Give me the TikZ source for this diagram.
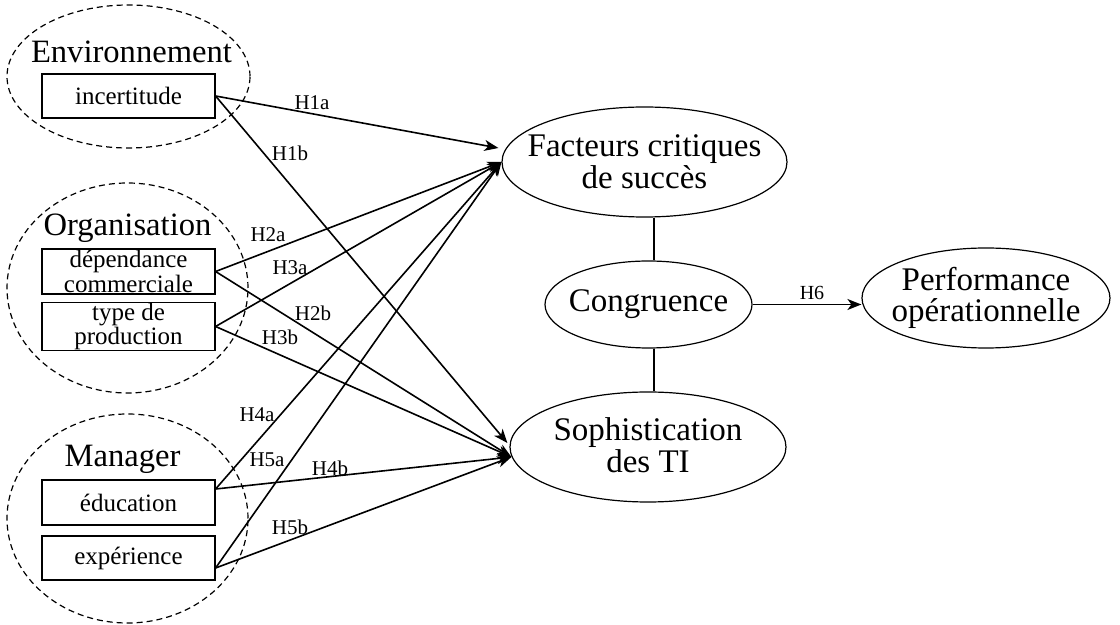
\documentclass[tikz,border=0pt]{standalone}
\usepackage{fontspec}
\setmainfont{Liberation Serif}
\usetikzlibrary{shapes.geometric,arrows.meta}
\begin{document}
\begin{tikzpicture}[x=0.5pt,y=-0.5pt,
  grp/.style={draw, dash pattern=on 3pt off 2pt, ellipse, line width=0.6pt, inner sep=0pt},
  grplbl/.style={font=\fontsize{16.3}{16}\selectfont, inner sep=0pt, anchor=base},
  boxnode/.style={draw, rectangle, line width=0.6pt, minimum width=86.5pt, minimum height=22pt, inner sep=0pt, align=center, font=\fontsize{12.5}{10.2}\selectfont},
  var/.style={draw, ellipse, line width=0.6pt, inner sep=0pt},
  vtext/.style={align=center, font=\fontsize{16.5}{14.2}\selectfont, inner sep=0pt},
  arr/.style={-{Stealth[length=7pt,width=5.5pt,inset=2pt]}, line width=0.8pt},
  plain/.style={line width=0.8pt},
  hyp/.style={font=\fontsize{10.5}{10.5}\selectfont, inner sep=0pt}
]
\useasboundingbox (0,0) rectangle (1120,625);

% group ellipses
\node[grp, minimum width=121.5pt, minimum height=71.5pt] (env) at (128.5,76.5) {};
\node[grp, minimum width=120.5pt, minimum height=105pt] (org) at (127.5,288) {};
\node[grp, minimum width=120.5pt, minimum height=104.5pt] (man) at (127.5,518.5) {};

\node[grplbl] (envl) at (131.5,63) {Environnement};
\node[grplbl] (orgl) at (127.5,236) {Organisation};
\node[grplbl] (manl) at (122.5,467) {Manager};

% boxes
\node[boxnode] (inc) at (128.5,96) {incertitude};
\node[boxnode, minimum height=22.5pt] (dep) at (128.5,271.5) {dépendance\\commerciale};
\node[boxnode, minimum height=22.5pt] (typ) at (128.5,326.5) {type de\\production};
\node[boxnode, minimum height=22.5pt] (edu) at (128.5,502.5) {éducation};
\node[boxnode] (exp) at (128.5,558) {expérience};

% right ellipses
\node[var, minimum width=142.5pt, minimum height=55pt] (fcs) at (644.5,162) {};
\node[vtext] (fcst) at (fcs) {Facteurs critiques\\de succès};
\node[var, minimum width=103.5pt, minimum height=43.5pt] (cong) at (648.5,304.5) {};
\node[vtext] (congt) at (cong) {Congruence};
\node[var, minimum width=138pt, minimum height=55pt] (sti) at (648,447) {};
\node[vtext] (stit) at ([yshift=1pt]sti) {Sophistication\\des TI};
\node[var, minimum width=124pt, minimum height=50pt] (perf) at (986,298) {};
\node[vtext, font=\fontsize{16.5}{15.5}\selectfont] (perft) at (perf) {Performance\\opérationnelle};

% connector ends
\coordinate (fa1) at ([shift={(-1.5pt,7pt)}]fcs.west);
\coordinate (sb) at ([shift={(1pt,-5pt)}]sti.west);
\coordinate (sb1) at ([shift={(-1pt,2pt)}]sti.west);
\coordinate (edu1) at ([yshift=6.75pt]edu.east);
\coordinate (exp1) at ([yshift=-5pt]exp.east);

% arrows
\draw[arr] (inc.east) -- (fa1);
\draw[arr] (inc.east) -- (sb1);
\draw[arr] (dep.east) -- (fcs.west);
\draw[arr] (dep.east) -- (sb);
\draw[arr] (typ.east) -- (fcs.west);
\draw[arr] (typ.east) -- (sb);
\draw[arr] (edu1) -- (fcs.west);
\draw[arr] (edu1) -- (sb);
\draw[arr] (exp1) -- (fcs.west);
\draw[arr] (exp1) -- (sb);

\draw[plain] ([xshift=4.75pt]fcs.south) -- ([xshift=2.75pt]cong.north);
\draw[plain] ([xshift=2.75pt]cong.south) -- ([xshift=3pt]sti.north);
\draw[arr] (cong.east) -- (cong.east -| perf.west);

% hypothesis labels
\node[hyp] (h1a) at (312,103) {H1a};
\node[hyp] (h1b) at (290,153) {H1b};
\node[hyp] (h2a) at (268,235) {H2a};
\node[hyp] (h3a) at (290,268) {H3a};
\node[hyp] (h2b) at (313,313) {H2b};
\node[hyp] (h3b) at (280,337) {H3b};
\node[hyp] (h4a) at (257,415) {H4a};
\node[hyp] (h5a) at (267,460) {H5a};
\node[hyp] (h4b) at (330,468) {H4b};
\node[hyp] (h5b) at (290,527) {H5b};
\node[hyp, font=\fontsize{10}{10}\selectfont] (h6) at (812,293) {H6};
\end{tikzpicture}
\end{document}
